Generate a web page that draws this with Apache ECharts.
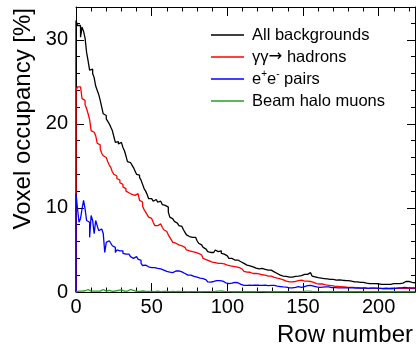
<!DOCTYPE html>
<html><head><meta charset="utf-8">
<script src="https://cdn.jsdelivr.net/npm/echarts@6/dist/echarts.min.js"></script>
<style>html,body{margin:0;padding:0;background:#fff}#c{width:419px;height:345px}</style>
</head><body><div id="c"></div>
<script>
const seriesNames = ['All backgrounds', 'γγ→ hadrons', 'e+e- pairs', 'Beam halo muons'];
const xTicks = [0, 50, 100, 150, 200];
const yTicks = [0, 10, 20, 30];

const allBackgrounds = [
32.3,31.7,31.7,30.3,31.5,31.0,30.2,28.5,27.5,26.4,
26.5,26.0,25.5,24.5,24.0,23.5,22.8,22.0,21.2,21.0,
20.6,20.3,20.0,19.6,19.2,18.5,17.8,17.9,17.6,17.8,
17.7,17.2,16.8,16.2,15.5,15.4,15.3,15.1,14.8,14.4,
14.0,13.9,13.6,13.3,12.8,12.3,12.0,11.6,11.1,11.1,
11.0,10.8,11.0,10.9,10.7,10.8,10.7,10.4,10.3,10.1,
10.1,9.5,8.9,8.7,8.5,8.4,8.2,8.0,7.9,7.8,
7.7,7.4,7.1,6.8,6.6,6.5,6.5,6.4,6.5,6.4,
6.1,5.8,5.6,5.4,5.3,5.1,4.9,4.8,4.7,4.8,
4.7,4.9,5.0,4.8,4.9,4.9,4.6,4.5,4.4,4.3,
4.1,4.0,4.0,3.9,3.8,3.9,3.8,3.75,3.6,3.5,
3.4,3.3,3.2,3.15,3.1,3.2,3.0,2.9,2.85,2.8,
2.76,2.7,2.8,2.6,2.7,2.55,2.6,2.5,2.6,2.56,
2.4,2.3,2.2,2.1,2.0,1.96,1.9,1.95,1.85,1.8,
1.76,1.8,1.76,1.8,1.85,1.8,1.9,2.0,1.96,2.0,
2.1,2.0,2.1,2.2,2.3,2.1,1.9,1.8,1.75,1.7,
1.6,1.65,1.55,1.6,1.5,1.55,1.6,1.5,1.45,1.5,
1.45,1.4,1.5,1.45,1.35,1.4,1.5,1.37,1.3,1.35,
1.45,1.3,1.25,1.2,1.25,1.2,1.17,1.15,1.1,1.15,
1.1,1.05,1.1,1.0,1.05,1.0,0.95,1.0,0.98,0.98,
0.95,0.9,0.95,0.9,0.92,0.9,0.95,0.9,0.95,1.0,
0.95,1.0,0.95,1.0,0.98,1.05,1.1,1.25,1.2,1.25,
1.1,1.15,1.1,1.1];

const hadrons = [
24.0,24.4,24.4,24.2,23.0,22.8,22.3,21.8,21.2,20.5,
19.2,19.0,18.9,18.6,17.7,17.5,17.0,16.5,16.2,16.0,
15.9,15.5,15.1,14.8,14.3,14.0,13.8,13.5,13.3,13.0,
12.8,12.5,12.3,12.0,11.8,11.7,11.6,11.5,11.5,11.4,
11.7,11.5,10.9,10.7,10.2,9.8,9.5,9.2,8.9,8.75,
8.7,8.3,7.9,7.9,8.0,8.1,8.0,7.7,7.4,7.2,
7.1,6.8,6.5,6.2,5.9,5.8,5.7,5.6,5.7,5.5,
5.5,5.3,5.2,5.0,4.9,4.9,4.8,4.9,4.7,4.7,
4.6,4.6,4.4,4.2,4.0,3.85,3.75,3.7,3.6,3.55,
3.55,3.5,3.5,3.4,3.5,3.4,3.35,3.35,3.3,3.2,
3.2,3.1,3.15,3.05,3.0,3.0,2.95,2.9,2.8,2.7,
2.6,2.45,2.36,2.3,2.35,2.25,2.2,2.25,2.2,2.17,
2.15,2.1,2.05,2.0,2.0,1.96,1.9,1.85,1.9,1.8,
1.75,1.7,1.65,1.6,1.57,1.5,1.45,1.4,1.3,1.25,
1.2,1.17,1.2,1.2,1.25,1.3,1.35,1.37,1.4,1.35,
1.3,1.25,1.3,1.2,1.25,1.25,1.15,1.05,1.0,0.95,
0.95,0.9,0.95,0.9,0.85,0.85,0.8,0.8,0.75,0.78,
0.7,0.72,0.68,0.65,0.65,0.6,0.62,0.6,0.58,0.55,
0.55,0.52,0.55,0.5,0.52,0.5,0.48,0.5,0.46,0.48,
0.45,0.47,0.44,0.46,0.45,0.43,0.45,0.42,0.44,0.4,
0.42,0.4,0.38,0.4,0.38,0.4,0.38,0.36,0.38,0.4,
0.42,0.45,0.44,0.46,0.45,0.42,0.44,0.4,0.42,0.45,
0.44,0.42,0.4,0.42];

const pairs = [
11.7,9.9,8.3,8.75,9.9,10.9,9.9,8.5,8.3,6.5,
9.1,8.5,6.95,8.5,7.9,7.3,7.5,7.5,6.95,4.7,
5.9,6.1,6.1,5.8,5.5,5.3,4.7,5.0,4.9,4.8,
4.9,4.6,4.5,4.35,4.5,4.5,4.2,4.0,4.1,4.2,
4.1,3.9,3.75,3.4,3.15,3.2,3.1,3.0,3.0,2.9,
3.0,2.9,2.8,2.8,2.7,2.75,2.6,2.6,2.5,2.45,
2.4,2.36,2.2,2.3,2.4,2.5,2.56,2.5,2.56,2.4,
2.3,2.2,2.1,2.0,1.95,2.0,1.9,1.85,1.8,1.76,
1.7,1.65,1.6,1.6,1.57,1.45,1.3,1.2,1.17,1.2,
1.25,1.3,1.35,1.3,1.35,1.37,1.3,1.2,1.1,1.05,
1.0,0.98,1.05,1.1,1.15,1.17,1.1,1.0,0.9,0.85,
0.8,0.8,0.78,0.8,0.82,0.78,0.8,0.85,0.8,0.78,
0.8,0.75,0.78,0.8,0.82,0.78,0.75,0.8,0.78,0.78,
0.78,0.75,0.7,0.68,0.65,0.62,0.6,0.6,0.58,0.55,
0.5,0.48,0.5,0.52,0.55,0.6,0.65,0.6,0.55,0.6,
0.65,0.7,0.75,0.78,0.8,0.75,0.7,0.65,0.6,0.55,
0.55,0.6,0.58,0.55,0.6,0.65,0.6,0.55,0.52,0.5,
0.55,0.52,0.5,0.55,0.5,0.48,0.5,0.52,0.5,0.48,
0.5,0.52,0.48,0.5,0.46,0.48,0.5,0.48,0.46,0.45,
0.48,0.46,0.44,0.46,0.45,0.48,0.46,0.44,0.45,0.46,
0.44,0.45,0.42,0.44,0.46,0.44,0.42,0.44,0.45,0.43,
0.44,0.46,0.48,0.46,0.5,0.52,0.55,0.5,0.52,0.55,
0.5,0.52,0.5,0.5];

const haloMuons = [
0.08,0.1,0.15,0.1,0.25,0.15,0.1,0.3,0.2,0.1,
0.15,0.1,0.2,0.1,0.08,0.1,0.25,0.3,0.15,0.1,
0.3,0.2,0.1,0.08,0.1,0.12,0.1,0.2,0.3,0.25,
0.15,0.1,0.08,0.1,0.15,0.3,0.35,0.2,0.1,0.08,
0.1,0.08,0.1,0.12,0.1,0.08,0.1,0.08,0.06,0.08,
0.06,0.05,0.08,0.1,0.06,0.05,0.05,0.08,0.1,0.08,
0.06,0.05,0.04,0.06,0.05,0.04,0.05,0.06,0.04,0.05,
0.04,0.05,0.04,0.03,0.05,0.04,0.06,0.05,0.04,0.05,
0.04,0.03,0.05,0.04,0.05,0.04,0.03,0.04,0.05,0.04,
0.05,0.06,0.08,0.1,0.15,0.12,0.1,0.08,0.06,0.05,
0.04,0.05,0.04,0.03,0.04,0.05,0.04,0.03,0.04,0.03,
0.04,0.03,0.04,0.05,0.04,0.03,0.04,0.03,0.03,0.04,
0.03,0.04,0.03,0.04,0.03,0.03,0.04,0.03,0.04,0.03,
0.03,0.04,0.03,0.03,0.04,0.03,0.04,0.03,0.03,0.04,
0.03,0.04,0.03,0.04,0.05,0.04,0.03,0.04,0.05,0.06,
0.08,0.1,0.12,0.1,0.08,0.06,0.05,0.04,0.03,0.04,
0.03,0.04,0.03,0.03,0.04,0.03,0.03,0.04,0.03,0.03,
0.04,0.03,0.03,0.04,0.03,0.03,0.04,0.03,0.03,0.04,
0.03,0.03,0.04,0.03,0.03,0.04,0.03,0.03,0.04,0.03,
0.03,0.04,0.03,0.03,0.04,0.03,0.03,0.04,0.03,0.03,
0.04,0.03,0.03,0.04,0.03,0.03,0.04,0.03,0.03,0.04,
0.03,0.03,0.04,0.03,0.03,0.04,0.03,0.03,0.04,0.03,
0.03,0.04,0.03,0.03];

const colors = ['#000000', '#ff0000', '#0000ff', '#1fa31f'];
const FONT = '"Liberation Sans", Arial, Helvetica, sans-serif';
const XMAX = 224, YMAX = 33.9;

function steps(vals) {
  const pts = [[0, 0]];
  for (let i = 0; i < vals.length; i++) pts.push([i, vals[i]]);
  pts.push([vals.length, vals[vals.length - 1]]);
  return pts;
}

const dataSets = [allBackgrounds, hadrons, pairs, haloMuons];
const chart = echarts.init(document.getElementById('c'), null, {renderer: 'canvas'});

const axisCommon = {
  type: 'value',
  axisLine: {show: true, onZero: false, lineStyle: {color: '#000', width: 1}},
  splitLine: {show: false},
};

chart.setOption({
  animation: false,
  backgroundColor: '#fff',
  grid: {left: 76, right: 4, top: 7, bottom: 53},
  xAxis: [
    Object.assign({}, axisCommon, {
      position: 'bottom', min: 0, max: XMAX, interval: 50,
      axisTick: {show: true, inside: true, length: 9, lineStyle: {color: '#000'}},
      minorTick: {show: true, splitNumber: 5, length: 4.5, lineStyle: {color: '#000'}},
      axisLabel: {show: true, color: '#000', fontSize: 20, fontFamily: FONT, margin: 5,
        showMaxLabel: false,
        formatter: v => xTicks.includes(v) ? String(v) : ''}
    }),
    Object.assign({}, axisCommon, {
      position: 'top', min: 0, max: XMAX, interval: 50,
      axisTick: {show: true, inside: true, length: 9, lineStyle: {color: '#000'}},
      minorTick: {show: true, splitNumber: 5, length: 4.5, lineStyle: {color: '#000'}},
      axisLabel: {show: false}
    })
  ],
  yAxis: [
    Object.assign({}, axisCommon, {
      position: 'left', min: 0, max: YMAX, interval: 10,
      axisTick: {show: true, inside: true, length: 8, lineStyle: {color: '#000'}},
      minorTick: {show: true, splitNumber: 5, length: 4, lineStyle: {color: '#000'}},
      axisLabel: {show: true, color: '#000', fontSize: 20, fontFamily: FONT, margin: 8,
        showMaxLabel: false,
        formatter: v => yTicks.includes(v) ? String(v) : ''}
    }),
    Object.assign({}, axisCommon, {
      position: 'right', min: 0, max: YMAX, interval: 10,
      axisTick: {show: true, inside: true, length: 8, lineStyle: {color: '#000'}},
      minorTick: {show: true, splitNumber: 5, length: 4, lineStyle: {color: '#000'}},
      axisLabel: {show: false}
    })
  ],
  legend: {
    orient: 'vertical', left: 206, top: 19, itemWidth: 33, itemHeight: 1.5, itemGap: 0,
    icon: 'rect', selectedMode: false,
    data: seriesNames,
    textStyle: {
      color: '#000', fontSize: 16.5, fontFamily: FONT, lineHeight: 22, padding: [0, 0, 0, 3],
      rich: {
        n: {fontSize: 16.5, fontFamily: FONT, color: '#000', lineHeight: 22},
        a: {fontSize: 16.5, fontFamily: '"DejaVu Sans"', color: '#000', lineHeight: 22},
        s: {fontSize: 10, fontFamily: FONT, color: '#000', lineHeight: 22, padding: [0, 0, 9, 0]}
      }
    },
    formatter: name => {
      if (name === 'e+e- pairs') return '{n|e}{s|+}{n|e}{s|-}{n| pairs}';
      if (name === 'γγ→ hadrons') return '{n|γγ}{a|→}{n| hadrons}';
      return name;
    }
  },
  graphic: [
    {type: 'text', right: 6, top: 323, style: {text: 'Row number', font: '24px ' + FONT, fill: '#000'}},
    {type: 'text', x: 23, y: 8, rotation: Math.PI / 2,
      style: {text: 'Voxel occupancy [%]', font: '24px ' + FONT, fill: '#000', align: 'right', verticalAlign: 'middle'}}
  ],
  series: seriesNames.map((nm, k) => ({
    name: nm, type: 'line', step: 'end', showSymbol: false, symbol: 'none',
    xAxisIndex: 0, yAxisIndex: 0,
    color: colors[k],
    lineStyle: {color: colors[k], width: 1.3},
    data: steps(dataSets[k]),
    z: 2 + k
  }))
});
</script></body></html>
